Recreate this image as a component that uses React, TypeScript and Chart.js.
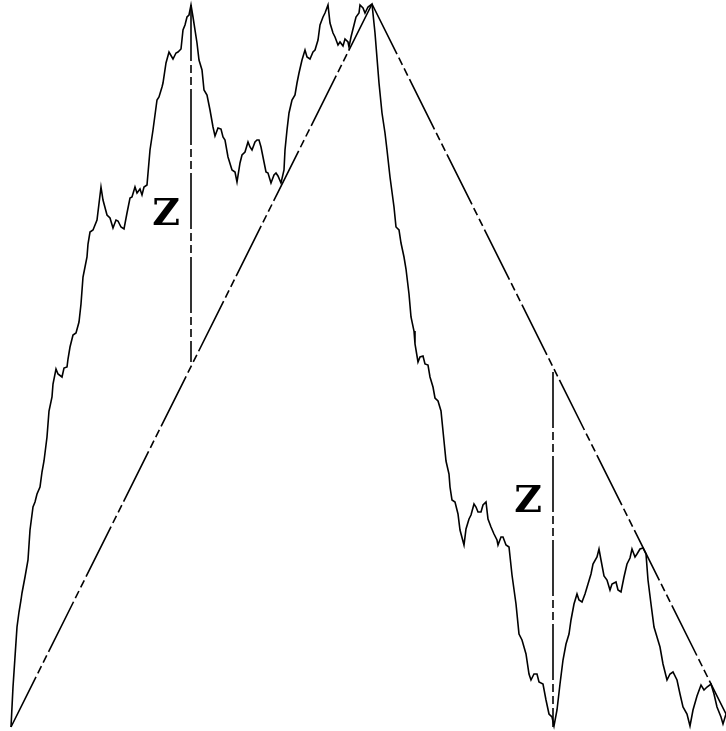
import React, { useEffect, useRef } from "react";
import { Chart, registerables } from "chart.js";

Chart.register(...registerables);

// Fractal path (x position, depth from top)
const curveX = [11, 13, 15, 17, 19, 21, 22, 25, 28, 30, 33, 35, 37, 40, 42, 44, 47, 49, 52, 53, 56, 58, 62, 64, 67, 68, 70, 73, 76, 79, 81, 83, 85, 87, 88, 90, 93, 97, 101, 103, 107, 110, 113, 116, 118, 121, 124, 127, 130, 132, 135, 137, 140, 142, 144, 147, 150, 153, 157, 159, 162, 163, 166, 169, 173, 176, 178, 181, 183, 185, 187, 189, 191, 193, 197, 199, 202, 204, 207, 210, 213, 215, 218, 221, 223, 225, 228, 232, 235, 237, 240, 242, 245, 248, 250, 252, 255, 257, 259, 261, 264, 266, 268, 271, 274, 276, 278, 281, 284, 285, 287, 289, 292, 295, 297, 299, 302, 305, 307, 310, 313, 315, 318, 320, 323, 325, 328, 330, 333, 335, 338, 340, 343, 345, 348, 349, 351, 354, 356, 359, 360, 363, 365, 368, 372, 375, 379, 382, 385, 387, 390, 394, 396, 399, 401, 404, 406, 409, 411, 414, 415, 418, 420, 423, 425, 428, 430, 433, 435, 438, 441, 444, 446, 449, 450, 452, 455, 458, 460, 464, 466, 469, 471, 474, 476, 478, 481, 483, 486, 488, 491, 494, 497, 498, 501, 503, 506, 509, 512, 516, 519, 522, 526, 529, 531, 534, 537, 539, 543, 546, 549, 552, 554, 557, 560, 563, 566, 569, 571, 574, 577, 579, 582, 585, 588, 591, 593, 597, 599, 601, 604, 607, 610, 612, 616, 618, 621, 624, 627, 630, 632, 635, 637, 640, 643, 646, 648, 651, 654, 657, 660, 663, 667, 670, 673, 677, 680, 683, 687, 690, 693, 697, 701, 704, 707, 711, 714, 717, 721, 723, 726];
const curveY = [727, 687, 657, 627, 612, 600, 593, 577, 560, 530, 507, 502, 494, 487, 472, 461, 437, 411, 397, 384, 369, 374, 377, 368, 367, 359, 347, 335, 333, 322, 304, 277, 267, 257, 244, 232, 230, 220, 187, 200, 215, 218, 228, 220, 221, 227, 229, 213, 198, 197, 187, 193, 189, 195, 187, 185, 150, 130, 100, 97, 87, 83, 63, 52, 59, 53, 52, 49, 30, 25, 17, 15, 5, 17, 43, 60, 70, 90, 95, 110, 127, 136, 128, 129, 137, 140, 157, 170, 172, 182, 163, 155, 152, 142, 147, 150, 142, 140, 140, 147, 162, 172, 173, 183, 175, 173, 176, 183, 170, 150, 130, 113, 100, 95, 83, 73, 60, 50, 57, 59, 52, 50, 40, 25, 17, 13, 5, 23, 33, 37, 45, 42, 46, 39, 42, 47, 37, 25, 17, 13, 5, 8, 13, 7, 4, 33, 83, 113, 133, 150, 177, 207, 227, 230, 243, 257, 269, 294, 317, 331, 344, 362, 357, 356, 364, 365, 377, 387, 398, 401, 411, 441, 461, 474, 487, 500, 502, 514, 530, 545, 529, 519, 515, 504, 507, 512, 512, 505, 502, 519, 527, 534, 540, 545, 537, 537, 545, 547, 575, 604, 634, 640, 654, 674, 680, 674, 674, 682, 684, 700, 714, 717, 726, 710, 684, 660, 644, 634, 620, 604, 594, 600, 602, 594, 584, 574, 564, 557, 549, 560, 576, 580, 590, 584, 582, 590, 592, 577, 564, 558, 549, 557, 554, 549, 548, 554, 580, 604, 627, 637, 647, 664, 680, 674, 672, 680, 694, 707, 714, 726, 710, 696, 685, 690, 687, 684, 694, 707, 717, 724, 714];

// Chords and verticals
const chordA = [{ x: 11, y: 727 }, { x: 372, y: 4 }];
const chordB = [{ x: 372, y: 4 }, { x: 726, y: 714 }];
const vertA = [{ x: 191, y: 5 }, { x: 191, y: 362 }];
const vertB = [{ x: 553, y: 372 }, { x: 553, y: 727 }];

// Labels
const labelText = ["Z", "Z"];
const labelX = [166, 528];
const labelY = [215, 502];

const DASH = [56, 4, 8, 4, 8, 4];

const labelPlugin = {
  id: "zLabels",
  afterDatasetsDraw(chart: any) {
    const { ctx, scales } = chart;
    ctx.save();
    ctx.fillStyle = "#000";
    ctx.font = "bold 38px 'DejaVu Serif'";
    ctx.textAlign = "center";
    ctx.textBaseline = "middle";
    labelText.forEach((t, i) => {
      ctx.fillText(t, scales.x.getPixelForValue(labelX[i]), scales.y.getPixelForValue(labelY[i]));
    });
    ctx.restore();
  },
};

export default function App() {
  const ref = useRef<HTMLCanvasElement | null>(null);
  useEffect(() => {
    document.body.style.margin = "0";
    document.body.style.background = "#fff";
    const lineStyle = (dash: number[]) => ({
      borderColor: "#000",
      borderWidth: 1.6,
      borderDash: dash,
      pointRadius: 0,
      tension: 0,
      fill: false,
      showLine: true,
    });
    const chart = new Chart(ref.current as HTMLCanvasElement, {
      type: "scatter",
      data: {
        datasets: [
          { data: curveX.map((x, i) => ({ x, y: curveY[i] })), ...lineStyle([]) },
          { data: chordA, ...lineStyle(DASH) },
          { data: chordB, ...lineStyle(DASH) },
          { data: vertA, ...lineStyle(DASH) },
          { data: vertB, ...lineStyle(DASH) },
        ],
      },
      options: {
        animation: false,
        responsive: false,
        maintainAspectRatio: false,
        layout: { padding: 0 },
        plugins: { legend: { display: false }, tooltip: { enabled: false } },
        scales: {
          x: { type: "linear", min: 0, max: 726, display: false },
          y: { type: "linear", min: 0, max: 731, reverse: true, display: false },
        },
      },
      plugins: [labelPlugin],
    });
    return () => chart.destroy();
  }, []);
  return (
    <div style={{ width: 726, height: 731, background: "#fff" }}>
      <canvas ref={ref} width={726} height={731} style={{ display: "block" }} />
    </div>
  );
}
